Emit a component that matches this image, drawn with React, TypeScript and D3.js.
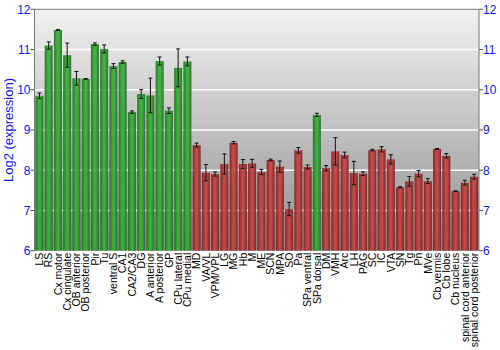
import React from "react";
import * as d3 from "d3";

const categories = [
  "LS", "RS", "Cx motor", "Cx cingulate", "OB anterior", "OB posterior", "Pir", "Tu",
  "ventral S", "CA1", "CA2/CA3", "DG", "A anterior", "A posterior", "GP", "CPu lateral",
  "CPu medial", "MD", "VA/VL", "VPM/VPL", "LG", "MG", "Hb", "M", "ME", "SCN", "MPA",
  "SO", "Pa", "SPa ventral", "SPa dorsal", "DM", "VMH", "Arc", "LH", "PAG", "SC", "IC",
  "VTA", "SN", "Tg", "Pn", "MVe", "Cb vermis", "Cb lobe", "Cb nucleus",
  "spinal cord anterior", "spinal cord posterior",
];

const values = [
  9.85, 11.1, 11.485, 10.86, 10.285, 10.27, 11.135, 11.015,
  10.59, 10.69, 9.445, 9.895, 9.86, 10.715, 9.48, 10.545,
  10.705, 8.625, 7.94, 7.905, 8.155, 8.685, 8.155, 8.17, 7.955, 8.255, 8.09,
  7.035, 8.495, 8.08, 9.375, 8.05, 8.47, 8.38, 7.93, 7.915, 8.5, 8.52,
  8.27, 7.575, 7.725, 7.915, 7.73, 8.53, 8.36, 7.48,
  7.69, 7.84,
];

const errors = [
  0.07, 0.09, 0.01, 0.3, 0.17, 0.01, 0.03, 0.1,
  0.06, 0.03, 0.03, 0.11, 0.43, 0.1, 0.07, 0.47,
  0.11, 0.05, 0.2, 0.05, 0.25, 0.03, 0.11, 0.1, 0.065, 0.02, 0.14,
  0.165, 0.07, 0.05, 0.04, 0.065, 0.34, 0.07, 0.29, 0.045, 0.02, 0.065,
  0.115, 0.015, 0.12, 0.08, 0.06, 0.01, 0.055, 0.01,
  0.06, 0.06,
];

const greenGroup = [
  "LS", "RS", "Cx motor", "Cx cingulate", "OB anterior", "OB posterior", "Pir", "Tu",
  "ventral S", "CA1", "CA2/CA3", "DG", "A anterior", "A posterior", "GP", "CPu lateral",
  "CPu medial", "SPa dorsal",
];

const yTicks = [6, 7, 8, 9, 10, 11, 12];

export default function App() {
  const W = 500, H = 350;
  const left = 34.5, right = 479, top = 9.3, bottom = 250.7;
  const x = d3.scaleBand<string>().domain(categories).range([left, right]).paddingInner(0.13).paddingOuter(0.1);
  const y = d3.scaleLinear().domain([6, 12]).range([bottom, top]);
  const bw = x.bandwidth();
  const font = "Liberation Sans, Arial, sans-serif";

  return (
    <svg width={W} height={H} style={{ position: "absolute", left: 0, top: 0 }} fontFamily={font}>
      <defs>
        <linearGradient id="bg" x1="0" y1="0" x2="0" y2="1">
          <stop offset="0" stopColor="#f2f2f2" />
          <stop offset="1" stopColor="#8e8e8e" />
        </linearGradient>
        <linearGradient id="gGreen" x1="0" y1="0" x2="1" y2="0">
          <stop offset="0" stopColor="#1c6e1c" />
          <stop offset="0.4" stopColor="#3aaa3a" />
          <stop offset="0.6" stopColor="#3aaa3a" />
          <stop offset="1" stopColor="#1c6e1c" />
        </linearGradient>
        <linearGradient id="gRed" x1="0" y1="0" x2="1" y2="0">
          <stop offset="0" stopColor="#7e1c1c" />
          <stop offset="0.4" stopColor="#c04444" />
          <stop offset="0.6" stopColor="#c04444" />
          <stop offset="1" stopColor="#7e1c1c" />
        </linearGradient>
      </defs>
      <rect x={left} y={top} width={right - left} height={bottom - top} fill="url(#bg)" />
      {yTicks.slice(1, -1).map((t) => (
        <line key={t} x1={left} x2={right} y1={y(t)} y2={y(t)} stroke="#ffffff" strokeWidth={1.5} />
      ))}
      {categories.map((c, i) => {
        const v = values[i];
        const e = errors[i];
        const x0 = x(c)!;
        const cx = x0 + bw / 2;
        const fill = greenGroup.includes(c) ? "url(#gGreen)" : "url(#gRed)";
        return (
          <g key={c}>
            <rect x={x0} y={y(v)} width={bw} height={y(6) - y(v)} fill={fill} fillOpacity={0.93} />
            <line x1={cx} x2={cx} y1={y(v + e)} y2={y(v - e)} stroke="#111" strokeWidth={1} />
            <line x1={cx - 2} x2={cx + 2} y1={y(v + e)} y2={y(v + e)} stroke="#111" strokeWidth={1} />
            <line x1={cx - 2} x2={cx + 2} y1={y(v - e)} y2={y(v - e)} stroke="#111" strokeWidth={1} />
          </g>
        );
      })}
      <line x1={left} x2={right} y1={top} y2={top} stroke="#777" strokeWidth={1} />
      <line x1={left} x2={left} y1={top} y2={bottom} stroke="#777" strokeWidth={1} />
      <line x1={right} x2={right} y1={top} y2={bottom} stroke="#777" strokeWidth={1} />
      {yTicks.map((t) => (
        <g key={t}>
          <line x1={left - 4} x2={left} y1={y(t)} y2={y(t)} stroke="#555" />
          <line x1={right} x2={right + 4} y1={y(t)} y2={y(t)} stroke="#555" />
          <text x={left - 4} y={y(t)} dy="0.36em" textAnchor="end" fontSize={12} fill="#1515ff">{t}</text>
          <text x={right + 4} y={y(t)} dy="0.36em" textAnchor="start" fontSize={12} fill="#1515ff">{t}</text>
        </g>
      ))}
      <text transform={`translate(13,${(top + bottom) / 2}) rotate(-90)`} textAnchor="middle" fontSize={13} fill="#1515ff">
        Log2 (expression)
      </text>
      {categories.map((c) => (
        <text
          key={c}
          transform={`translate(${x(c)! + bw / 2},${bottom + 2}) rotate(-90)`}
          dy="0.36em"
          textAnchor="end"
          fontSize={10.5}
          fill="#000"
        >
          {c}
        </text>
      ))}
    </svg>
  );
}
